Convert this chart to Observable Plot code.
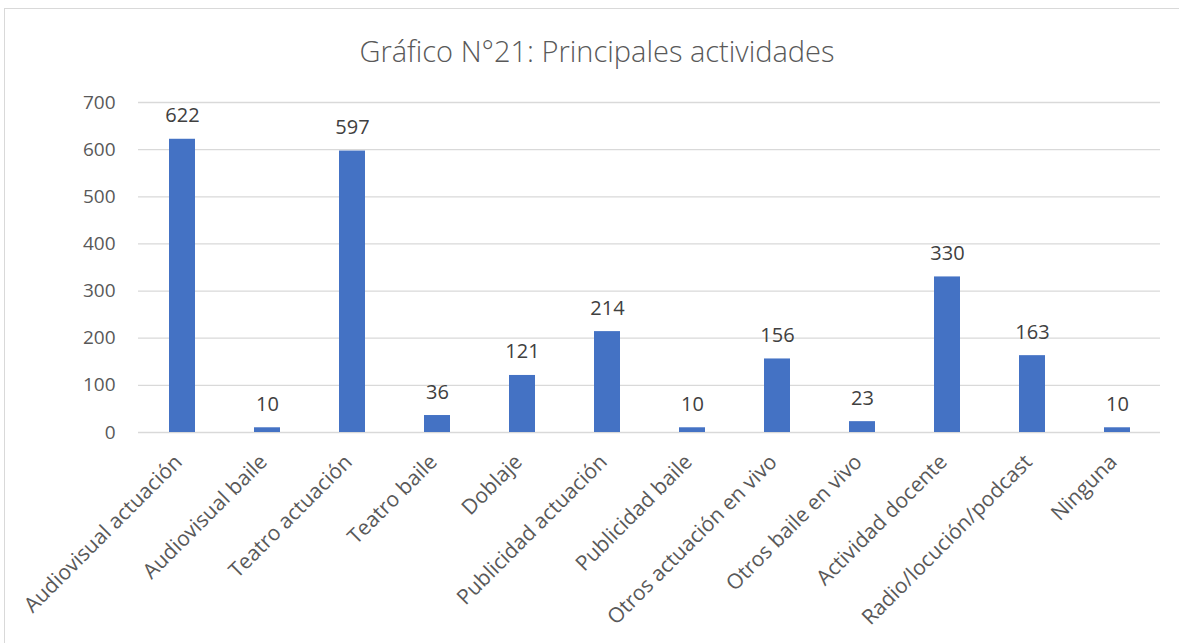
<!DOCTYPE html>
<html>
<head>
<meta charset="utf-8">
<script src="https://cdn.jsdelivr.net/npm/d3@7"></script>
<script src="https://cdn.jsdelivr.net/npm/@observablehq/plot@0.6"></script>
<style>
  html, body { margin: 0; padding: 0; background: #fff; }
  body { width: 1179px; height: 643px; position: relative; overflow: hidden; font-family: "Open Sans", sans-serif; }
  #frame { position: absolute; left: 4px; top: 8px; width: 1180px; height: 650px; border: 1.5px solid #d9d9d9; box-sizing: border-box; }
  #title { position: absolute; left: 0; top: 31px; width: 1194px; text-align: center; font-size: 29px; font-weight: 300; color: #595959; font-family: "Open Sans", sans-serif; }
  #chart { position: absolute; left: 0; top: 0; }
</style>
</head>
<body>
<div id="frame"></div>
<div id="chart"></div>
<div id="title">Gráfico N°21: Principales actividades</div>
<script>
const categories = [
  "Audiovisual actuación", "Audiovisual baile", "Teatro actuación", "Teatro baile",
  "Doblaje", "Publicidad actuación", "Publicidad baile", "Otros actuación en vivo",
  "Otros baile en vivo", "Actividad docente", "Radio/locución/podcast", "Ninguna"
];
const values = [622, 10, 597, 36, 121, 214, 10, 156, 23, 330, 163, 10];
const yTicks = [0, 100, 200, 300, 400, 500, 600, 700];

const data = categories.map((c, i) => ({ category: c, value: values[i] }));

const chart = Plot.plot({
  width: 1179,
  height: 643,
  marginTop: 102,
  marginBottom: 211,
  marginLeft: 138,
  marginRight: 19,
  style: { fontFamily: "Open Sans, sans-serif", fontSize: "19px", color: "#595959", background: "transparent" },
  x: { domain: categories, paddingInner: 0.7, paddingOuter: 0.35, label: null },
  y: { domain: [0, 700], ticks: yTicks, label: null },
  marks: [
    Plot.gridY(yTicks, { stroke: "#d9d9d9", strokeOpacity: 1, strokeWidth: 1.3 }),
    Plot.axisY({ ticks: yTicks, tickSize: 0, tickPadding: 23, fontSize: 19, fill: "#595959", label: null }),
    Plot.axisX({ tickSize: 0, tickRotate: -45, tickPadding: 12, dx: -4, dy: 14, fontSize: 21, fill: "#595959", label: null }),
    Plot.barY(data, { x: "category", y: "value", fill: "#4472C4" }),
    Plot.text(data, { x: "category", y: "value", text: d => String(d.value), lineAnchor: "bottom", dy: -17, fontSize: 20, fill: "#404040" })
  ]
});
document.getElementById("chart").appendChild(chart);
</script>
</body>
</html>
